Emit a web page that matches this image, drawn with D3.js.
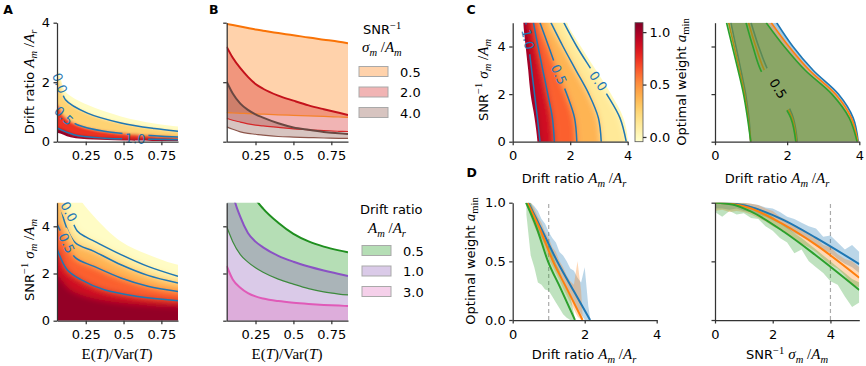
<!DOCTYPE html>
<html>
<head>
<meta charset="utf-8">
<script src="https://cdn.jsdelivr.net/npm/d3@7"></script>
<style>
  body { margin: 0; background: #fff; }
  svg text { font-family: "DejaVu Sans", sans-serif; font-size: 13px; }
  .axis path, .axis line { stroke: #333; stroke-width: 1.25; }
  .axis text { font-family: "DejaVu Sans", sans-serif; font-size: 13px; fill: #000; }
  .letter { font-weight: bold; font-size: 12.5px; }
</style>
</head>
<body>
<svg id="fig" width="866" height="366"></svg>
<script>
// ---------- shared ----------
const etTicks = [0.25, 0.5, 0.75];
const etDomain = [0.06, 0.86];
const snrGrid = [0, 1, 2, 3, 4, 5];
const cbDomain = [-0.045, 1.09];
const cbTicks = [0.0, 0.5, 1.0];

// ---------- A top: weight map over E(T)/Var(T) x drift ratio ----------
const aTopEdge   = [[0.06, 2.4], [0.116, 1.69], [0.261, 1.24], [0.483, 0.85], [0.705, 0.61], [0.86, 0.51]];
const aTopLine00 = [[0.06, 2.2], [0.079, 1.97], [0.116, 1.41], [0.261, 0.96], [0.483, 0.63], [0.705, 0.44], [0.86, 0.35]];
const aTopLine05 = [[0.06, 1.25], [0.105, 0.87], [0.194, 0.57], [0.372, 0.35], [0.594, 0.235], [0.86, 0.157]];
const aTopLine10 = [[0.06, 0.46], [0.172, 0.235], [0.372, 0.12], [0.577, 0.09], [0.86, 0.067]];
const aTopFloor  = [[0.06, 0.3], [0.15, 0.15], [0.3, 0.07], [0.5, 0.04], [0.86, 0.02]];
const aTopLevels = [-0.045, 0.0, 0.5, 1.0, 1.09];
const aTopLabels = [["0.0", 0.079, 1.97, 70], ["0.5", 0.105, 0.87, 45], ["1.0", 0.577, 0.1, 3]];

// ---------- A bottom: weight map over E(T)/Var(T) x SNR^-1 ----------
const aBotEdge   = [[0.06, 8.0], [0.2, 5.3], [0.305, 4.42], [0.483, 3.36], [0.661, 2.8], [0.86, 2.37]];
const aBotLine00 = [[0.06, 7.0], [0.10, 5.3], [0.139, 4.62], [0.194, 3.8], [0.25, 3.55], [0.305, 3.37], [0.483, 2.8], [0.661, 2.3], [0.86, 1.88]];
const aBotLine25 = [[0.06, 5.6], [0.12, 4.0], [0.183, 3.29], [0.305, 2.94], [0.483, 2.37], [0.661, 1.92], [0.86, 1.6]];
const aBotLine50 = [[0.06, 4.1], [0.123, 3.29], [0.183, 2.66], [0.305, 2.3], [0.483, 1.81], [0.661, 1.46], [0.86, 1.24]];
const aBotLine75 = [[0.06, 3.05], [0.127, 2.16], [0.218, 1.74], [0.372, 1.31], [0.594, 1.03], [0.86, 0.85]];
const aBotDeep   = [[0.06, 1.9], [0.15, 1.3], [0.3, 0.95], [0.5, 0.75], [0.86, 0.6]];
const aBotFloor  = [[0.06, 0], [0.86, 0]];
const aBotLevels = [-0.045, 0.0, 0.25, 0.5, 0.75, 1.0, 1.09];
const aBotLabels = [["0.0", 0.139, 4.62, 62], ["0.5", 0.123, 3.29, 65]];

// ---------- B: bounds of the useful region ----------
const bX = [0.06, 0.1, 0.15, 0.2, 0.25, 0.3, 0.4, 0.5, 0.6, 0.7, 0.8, 0.86];
const bSnrNames = ["0.5", "2.0", "4.0"];
const bSnrHi = [
  [3.96, 3.92, 3.87, 3.82, 3.77, 3.73, 3.65, 3.58, 3.5, 3.43, 3.36, 3.31],
  [3.19, 2.82, 2.47, 2.18, 1.94, 1.78, 1.55, 1.38, 1.22, 1.09, 0.97, 0.90],
  [2.02, 1.62, 1.28, 1.07, 0.92, 0.81, 0.62, 0.48, 0.40, 0.33, 0.28, 0.26]
];
const bSnrLo = [
  [0.975, 0.965, 0.955, 0.945, 0.935, 0.925, 0.905, 0.885, 0.865, 0.85, 0.83, 0.82],
  [0.79, 0.72, 0.66, 0.60, 0.56, 0.53, 0.48, 0.43, 0.40, 0.37, 0.35, 0.34],
  [0.50, 0.42, 0.33, 0.28, 0.25, 0.22, 0.175, 0.155, 0.14, 0.125, 0.115, 0.11]
];
const bDriftNames = ["0.5", "1.0", "3.0"];
const bDriftHi = [
  [9.0, 7.5, 6.4, 5.7, 5.15, 4.75, 4.15, 3.68, 3.36, 3.14, 2.98, 2.9],
  [7.0, 5.4, 4.4, 3.72, 3.35, 3.11, 2.75, 2.5, 2.3, 2.13, 1.98, 1.89],
  [2.32, 1.75, 1.4, 1.17, 1.03, 0.94, 0.83, 0.76, 0.71, 0.67, 0.64, 0.62]
];
const bDriftLo = [
  [3.98, 3.35, 2.8, 2.48, 2.24, 2.05, 1.76, 1.55, 1.36, 1.22, 1.13, 1.09],
  [0, 0, 0, 0, 0, 0, 0, 0, 0, 0, 0, 0],
  [0, 0, 0, 0, 0, 0, 0, 0, 0, 0, 0, 0]
];

// ---------- C left: weight map over drift ratio x SNR^-1 (x at each SNR^-1) ----------
const cLeftEdge  = [0.86, 0.76, 0.62, 0.54, 0.45, 0.37];
const cLine10    = [0.95, 0.86, 0.76, 0.66, 0.56, 0.46];
const cLine075   = [1.45, 1.38, 1.22, 1.05, 0.88, 0.72];
const cLine05    = [2.23, 2.15, 1.88, 1.55, 1.25, 0.95];
const cLine025   = [3.08, 2.98, 2.65, 2.2, 1.75, 1.33];
const cLine00    = [3.95, 3.73, 3.27, 2.75, 2.23, 1.78];
const cRightEdge = [4.02, 3.85, 3.42, 2.9, 2.37, 1.9];
const cLevels = [1.09, 1.0, 0.75, 0.5, 0.25, 0.0, -0.045];
const cLabels = [["1.0", 0.53, 4.3, 78], ["0.5", 1.61, 2.82, 66], ["0.0", 2.98, 2.55, 55]];

// ---------- C right: three models, weight 1 / 0.5 / 0 lines ----------
const cModelColors = ["#1f77b4", "#ff7f0e", "#2ca02c"];
const cOne  = [[0.99, 0.94, 0.85, 0.72, 0.58, 0.44], [0.99, 0.92, 0.82, 0.68, 0.53, 0.38], [0.99, 0.90, 0.79, 0.64, 0.48, 0.32]];
const cHalf = [[2.28, 2.17, 1.86, 1.47, 1.21, 1.0], [2.26, 2.14, 1.78, 1.37, 1.13, 0.93], [2.24, 2.1, 1.7, 1.27, 1.05, 0.86]];
const cZero = [[3.97, 3.83, 3.42, 2.72, 2.16, 1.71], [3.96, 3.78, 3.34, 2.62, 2.05, 1.56], [3.94, 3.72, 3.24, 2.5, 1.92, 1.42]];
const cHalfLabel = ["0.5", 1.75, 2.23, 58];

// ---------- D left: weight vs drift ratio ----------
const dLeftRef = 1;
const dLeftLines = [
  [[0.43, 1.0], [0.8, 0.775], [1.22, 0.51], [1.7, 0.245], [2.15, 0]],
  [[0.41, 1.0], [0.75, 0.78], [1.12, 0.5], [1.5, 0.27], [1.94, 0]],
  [[0.37, 1.0], [0.66, 0.79], [0.98, 0.5], [1.33, 0.27], [1.73, 0]]
];
const dLeftX = [
  [0.45, 0.5, 0.6, 0.7, 0.8, 0.9, 1.0, 1.1, 1.2, 1.3, 1.4, 1.5, 1.6, 1.7, 1.8, 1.9, 2.0, 2.1, 2.15],
  [0.42, 0.5, 0.6, 0.7, 0.8, 0.9, 1.0, 1.1, 1.2, 1.3, 1.4, 1.5, 1.6, 1.7, 1.8, 1.9, 1.94],
  [0.38, 0.5, 0.6, 0.7, 0.8, 0.9, 1.0, 1.1, 1.2, 1.3, 1.4, 1.5, 1.6, 1.7, 1.73]
];
const dLeftHi = [
  [1.0, 1.0, 0.97, 0.93, 0.86, 0.82, 0.75, 0.70, 0.66, 0.58, 0.55, 0.50, 0.44, 0.42, 0.36, 0.32, 0.45, 0.12, 0.02],
  [1.0, 1.0, 0.95, 0.88, 0.83, 0.75, 0.70, 0.62, 0.58, 0.50, 0.45, 0.38, 0.33, 0.30, 0.50, 0.25, 0.05],
  [1.0, 1.0, 0.92, 0.86, 0.78, 0.70, 0.64, 0.57, 0.48, 0.42, 0.33, 0.26, 0.20, 0.06, 0.0]
];
const dLeftLo = [
  [0.95, 0.90, 0.84, 0.76, 0.70, 0.64, 0.58, 0.52, 0.46, 0.40, 0.34, 0.28, 0.22, 0.16, 0.10, 0.05, 0.0, 0.0, 0.0],
  [0.95, 0.88, 0.80, 0.73, 0.66, 0.60, 0.52, 0.46, 0.40, 0.34, 0.27, 0.21, 0.15, 0.09, 0.03, 0.0, 0.0],
  [0.9, 0.55, 0.45, 0.32, 0.30, 0.26, 0.25, 0.2, 0.15, 0.1, 0.05, 0.02, 0.0, 0.0, 0.0]
];

// ---------- D right: weight vs SNR^-1 ----------
const dRightRef = 4;
const dRightLines = [
  [[0, 1.0], [0.6, 0.993], [1.2, 0.965], [2.4, 0.85], [3.5, 0.70], [5, 0.477]],
  [[0, 1.0], [0.6, 0.99], [1.2, 0.955], [2.4, 0.81], [3.5, 0.64], [5, 0.36]],
  [[0, 1.0], [0.6, 0.985], [1.2, 0.93], [2.4, 0.75], [3.5, 0.55], [5, 0.256]]
];
const dRightX = [0, 0.25, 0.5, 0.75, 1, 1.25, 1.5, 1.75, 2, 2.25, 2.5, 2.75, 3, 3.25, 3.5, 3.75, 4, 4.25, 4.5, 4.75, 5];
const dRightHi = [
  [1.0, 1.0, 1.0, 1.0, 1.0, 0.99, 0.98, 0.96, 0.95, 0.92, 0.88, 0.86, 0.83, 0.80, 0.78, 0.71, 0.72, 0.66, 0.60, 0.64, 0.58],
  [1.0, 1.0, 1.0, 1.0, 1.0, 0.99, 0.98, 0.95, 0.93, 0.88, 0.85, 0.80, 0.78, 0.74, 0.70, 0.64, 0.62, 0.56, 0.52, 0.50, 0.45],
  [1.0, 1.0, 1.0, 1.0, 0.99, 0.97, 0.95, 0.92, 0.88, 0.83, 0.79, 0.74, 0.70, 0.65, 0.60, 0.55, 0.50, 0.45, 0.40, 0.35, 0.32]
];
const dRightLo = [
  [0.95, 0.95, 0.94, 0.95, 0.93, 0.92, 0.90, 0.88, 0.85, 0.82, 0.78, 0.74, 0.71, 0.68, 0.63, 0.60, 0.57, 0.52, 0.48, 0.45, 0.40],
  [0.93, 0.94, 0.92, 0.93, 0.92, 0.90, 0.87, 0.84, 0.80, 0.77, 0.73, 0.70, 0.65, 0.62, 0.58, 0.52, 0.47, 0.44, 0.38, 0.30, 0.28],
  [0.92, 0.88, 0.93, 0.90, 0.91, 0.87, 0.86, 0.80, 0.76, 0.70, 0.66, 0.57, 0.60, 0.50, 0.45, 0.40, 0.33, 0.30, 0.20, 0.11, 0.15]
];

// ================= drawing =================
const svg = d3.select('#fig');
const defs = svg.append('defs');
const serif = '"Liberation Serif", "DejaVu Serif", serif';
const cmap = d3.scaleSequential(d3.interpolateYlOrRd).domain(cbDomain);
const smooth = d3.line().curve(d3.curveCatmullRom.alpha(0.5));
let uid = 0;

function panel(l, r, t, b, xd, yd) {
  return { x: d3.scaleLinear().domain(xd).range([l, r]), y: d3.scaleLinear().domain(yd).range([b, t]), l, r, t, b };
}
function clipRect(p) {
  const id = 'c' + (uid++);
  defs.append('clipPath').attr('id', id).append('rect')
    .attr('x', p.l).attr('y', p.t).attr('width', p.r - p.l).attr('height', p.b - p.t);
  return `url(#${id})`;
}
const toPx = (p, c) => c.map(d => [p.x(d[0]), p.y(d[1])]);
const band = (c1, c2) => smooth(c1) + 'L' + smooth(c2.slice().reverse()).slice(1) + 'Z';
const bySnr = arr => arr.map((v, i) => [v, snrGrid[i]]);

// math-ish text: parts of [string, kind]
function mtext(g, parts) {
  const t = g.append('text');
  let shift = 0;
  parts.forEach(([s, k]) => {
    const ts = t.append('tspan').text(s);
    let target = 0;
    if (k === 'i') ts.attr('font-family', serif).attr('font-style', 'italic').attr('font-size', 15);
    else if (k === 'm') ts.attr('font-family', serif).attr('font-size', 15);
    else if (k === 'sub') { ts.attr('font-family', serif).attr('font-style', 'italic').attr('font-size', 10.5); target = 3.5; }
    else if (k === 'subr') { ts.attr('font-family', serif).attr('font-size', 10.5); target = 3.5; }
    else if (k === 'sup') { ts.attr('font-family', serif).attr('font-size', 10.5); target = -5.5; }
    if (target !== shift) { ts.attr('dy', target - shift); shift = target; }
  });
  return t;
}
const lblDrift = [["Drift ratio ", "r"], ["A", "i"], ["m", "sub"], [" /", "m"], ["A", "i"], ["r", "sub"]];
const lblSnr = [["SNR", "r"], ["\u22121", "sup"], ["  ", "r"], ["\u03c3", "i"], ["m", "sub"], [" /", "m"], ["A", "i"], ["m", "sub"]];
const lblET = [["E(", "m"], ["T", "i"], [")/Var(", "m"], ["T", "i"], [")", "m"]];
const lblW = [["Optimal weight ", "r"], ["a", "i"], ["min", "subr"]];

function xLabel(parts, cx, y) { mtext(svg, parts).attr('x', cx).attr('y', y).attr('text-anchor', 'middle'); }
function yLabel(parts, x, cy) {
  mtext(svg, parts).attr('text-anchor', 'middle').attr('dy', '0.35em')
    .attr('transform', `translate(${x},${cy}) rotate(-90)`);
}

function axes(p, xt, yt, xf, yf) {
  svg.append('g').attr('class', 'axis').attr('transform', `translate(0,${p.b})`)
    .call(d3.axisBottom(p.x).tickValues(xt).tickSize(3.5).tickSizeOuter(0).tickPadding(6).tickFormat(xf || (() => '')));
  svg.append('g').attr('class', 'axis').attr('transform', `translate(${p.l},0)`)
    .call(d3.axisLeft(p.y).tickValues(yt).tickSize(3.5).tickSizeOuter(0).tickPadding(3.5).tickFormat(yf || (() => '')));
}

// blurred colour bands between boundary curves (a filled heat map)
function heat(p, curves, levels, orient, sd) {
  const padded = curves.map(c => {
    const q = toPx(p, c), a = q[0], b = q[q.length - 1];
    return orient === 'h'
      ? [[a[0] - 12, a[1]], ...q, [b[0] + 12, b[1]]]
      : [[a[0], a[1] + 12], ...q, [b[0], b[1] - 12]];
  });
  const outer = 'c' + (uid++);
  defs.append('clipPath').attr('id', outer).append('path').attr('d', band(padded[0], padded[padded.length - 1]));
  const fid = 'f' + (uid++);
  defs.append('filter').attr('id', fid).attr('x', -0.2).attr('y', -0.2).attr('width', 1.4).attr('height', 1.4)
    .append('feGaussianBlur').attr('stdDeviation', sd);
  const g = svg.append('g').attr('clip-path', clipRect(p))
    .append('g').attr('clip-path', `url(#${outer})`)
    .append('g').attr('filter', `url(#${fid})`);
  const n = padded.length - 1;
  [0, n - 1, ...d3.range(1, n - 1)].forEach(i => {
    const col = cmap((levels[i] + levels[i + 1]) / 2);
    const el = g.append('path').attr('d', band(padded[i], padded[i + 1])).attr('fill', col);
    if (i === 0 || i === n - 1) el.attr('stroke', col).attr('stroke-width', 14).attr('stroke-linejoin', 'round');
  });
}

function contours(p, lines, labels, color, mw, mh) {
  const mid = 'm' + (uid++);
  const m = defs.append('mask').attr('id', mid).attr('maskUnits', 'userSpaceOnUse')
    .attr('x', 0).attr('y', 0).attr('width', 866).attr('height', 366);
  m.append('rect').attr('width', 866).attr('height', 366).attr('fill', '#fff');
  labels.forEach(l => m.append('rect').attr('x', -mw / 2).attr('y', -mh / 2).attr('width', mw).attr('height', mh)
    .attr('fill', '#000').attr('transform', `translate(${p.x(l[1])},${p.y(l[2])}) rotate(${l[3]})`));
  svg.append('g').attr('clip-path', clipRect(p)).append('g').attr('mask', `url(#${mid})`)
    .selectAll('path').data(lines).join('path')
    .attr('d', c => smooth(toPx(p, c))).attr('fill', 'none').attr('stroke', color).attr('stroke-width', 1.5);
  svg.append('g').selectAll('text').data(labels).join('text')
    .attr('transform', l => `translate(${p.x(l[1])},${p.y(l[2])}) rotate(${l[3]})`)
    .attr('text-anchor', 'middle').attr('dy', '0.36em').attr('fill', color).text(l => l[0]);
}

const blueC = '#1f77b4';
const f2 = d => String(d);
const fInt = d3.format('d');
const f1 = d3.format('.1f');

// ----- A top -----
const pA1 = panel(57, 178, 22.7, 141.7, etDomain, [0, 4]);
heat(pA1, [aTopEdge, aTopLine00, aTopLine05, aTopLine10, aTopFloor], aTopLevels, 'h', 1.8);
contours(pA1, [aTopLine00, aTopLine05, aTopLine10], aTopLabels, blueC, 26, 13);
axes(pA1, etTicks, [0, 2, 4], f2, fInt);
yLabel(lblDrift, 29, 82);

// ----- A bottom -----
const pA2 = panel(57, 178, 202.7, 320.7, etDomain, [0, 5]);
heat(pA2, [aBotEdge, aBotLine00, aBotLine25, aBotLine50, aBotLine75, aBotDeep, aBotFloor], aBotLevels, 'h', 3);
contours(pA2, [aBotLine00, aBotLine25, aBotLine50, aBotLine75], aBotLabels, blueC, 28, 14);
axes(pA2, etTicks, [0, 2, 4], f2, fInt);
yLabel(lblSnr, 29, 260);
xLabel(lblET, 117, 359);

// ----- B top -----
const pB1 = panel(226.7, 348, 22.7, 141.7, etDomain, [0, 4]);
const snrFill = ["#ff7f0e", "#d62728", "#8c564b"];
const snrHiLine = ["#f97306", "#c4121b", "#6a4842"];
const snrLoLine = ["#f5822a", "#d62728", "#8c564b"];
const driftFill = ["#2ca02c", "#9467bd", "#e377c2"];
const driftHiLine = ["#1f8f1f", "#8a52c4", "#e05ab8"];
const driftLoLine = ["#3d8a3d", "#9467bd", "#e377c2"];

function boundBands(p, hi, lo, fills, hiCols, loCols) {
  const g = svg.append('g').attr('clip-path', clipRect(p));
  const idx = d3.range(bX.length);
  hi.forEach((h, k) => {
    const area = d3.area().x(i => p.x(bX[i])).y0(i => p.y(lo[k][i])).y1(i => p.y(h[i])).curve(d3.curveMonotoneX);
    g.append('path').attr('d', area(idx)).attr('fill', fills[k]).attr('fill-opacity', 0.35);
  });
  hi.forEach((h, k) => {
    const ln = arr => d3.line().x(i => p.x(bX[i])).y(i => p.y(arr[i])).curve(d3.curveMonotoneX)(idx);
    if (d3.max(lo[k]) > 0) g.append('path').attr('d', ln(lo[k])).attr('fill', 'none').attr('stroke', loCols[k]).attr('stroke-width', 1.2);
    g.append('path').attr('d', ln(h)).attr('fill', 'none').attr('stroke', hiCols[k]).attr('stroke-width', 2);
  });
}
boundBands(pB1, bSnrHi, bSnrLo, snrFill, snrHiLine, snrLoLine);
axes(pB1, etTicks, [0, 2, 4], f2, null);

function legend(x, y0, names, fills) {
  names.forEach((nm, k) => {
    const y = y0 + k * 20.5;
    svg.append('rect').attr('x', x).attr('y', y).attr('width', 29).attr('height', 10)
      .attr('fill', fills[k]).attr('fill-opacity', 0.35).attr('stroke', '#a9a9a9').attr('stroke-width', 1);
    svg.append('text').attr('x', x + 41).attr('y', y + 10).text(nm);
  });
}
mtext(svg, [["SNR", "r"], ["\u22121", "sup"]]).attr('x', 363).attr('y', 34);
mtext(svg, [["\u03c3", "i"], ["m", "sub"], [" /", "m"], ["A", "i"], ["m", "sub"]]).attr('x', 362).attr('y', 52);
legend(359, 66.5, bSnrNames, snrFill);

// ----- B bottom -----
const pB2 = panel(226.7, 348, 202.7, 320.7, etDomain, [0, 5]);
boundBands(pB2, bDriftHi, bDriftLo, driftFill, driftHiLine, driftLoLine);
axes(pB2, etTicks, [0, 2, 4], f2, null);
xLabel(lblET, 287, 359);
svg.append('text').attr('x', 360).attr('y', 214).text('Drift ratio');
mtext(svg, [["A", "i"], ["m", "sub"], [" /", "m"], ["A", "i"], ["r", "sub"]]).attr('x', 368).attr('y', 233);
legend(362, 245.5, bDriftNames, driftFill);

// ----- C left -----
const pC1 = panel(512.7, 627.7, 22.7, 141.7, [0, 4], [0, 5]);
heat(pC1, [cLeftEdge, cLine10, cLine075, cLine05, cLine025, cLine00, cRightEdge].map(bySnr), cLevels, 'v', 3);
contours(pC1, [cLine10, cLine075, cLine05, cLine025, cLine00].map(bySnr), cLabels, blueC, 30, 14);
axes(pC1, [0, 2, 4], [0, 2, 4], fInt, fInt);
yLabel(lblSnr, 483, 80);
xLabel(lblDrift, 574, 183);

// colour bar
const cb = d3.scaleLinear().domain(cbDomain).range([141.7, 22.7]);
const grad = defs.append('linearGradient').attr('id', 'cbgrad').attr('x1', 0).attr('y1', 1).attr('x2', 0).attr('y2', 0);
d3.range(0, 1.0001, 0.05).forEach(t => grad.append('stop').attr('offset', t)
  .attr('stop-color', cmap(cbDomain[0] + t * (cbDomain[1] - cbDomain[0]))));
svg.append('rect').attr('x', 635).attr('y', cb(cbDomain[1])).attr('width', 8)
  .attr('height', cb(cbDomain[0]) - cb(cbDomain[1])).attr('fill', 'url(#cbgrad)').attr('stroke', '#555').attr('stroke-width', 0.8);
svg.append('g').attr('class', 'axis').attr('transform', 'translate(643,0)')
  .call(d3.axisRight(cb).tickValues(cbTicks).tickSize(3.5).tickSizeOuter(0).tickPadding(3).tickFormat(f1))
  .select('.domain').remove();
yLabel(lblW, 681, 82);

// ----- C right -----
const pC2 = panel(715, 859.3, 22.7, 141.7, [0, 4], [0, 5]);
{
  const g = svg.append('g').attr('clip-path', clipRect(pC2));
  const mid = 'm' + (uid++);
  const m = defs.append('mask').attr('id', mid).attr('maskUnits', 'userSpaceOnUse')
    .attr('x', 0).attr('y', 0).attr('width', 866).attr('height', 366);
  m.append('rect').attr('width', 866).attr('height', 366).attr('fill', '#fff');
  m.append('rect').attr('x', -23).attr('y', -9).attr('width', 46).attr('height', 18).attr('fill', '#000')
    .attr('transform', `translate(${pC2.x(cHalfLabel[1])},${pC2.y(cHalfLabel[2])}) rotate(${cHalfLabel[3]})`);
  cModelColors.forEach((col, k) => {
    const one = toPx(pC2, bySnr(cOne[k])), zero = toPx(pC2, bySnr(cZero[k]));
    g.append('path').attr('d', band(one, zero)).attr('fill', col).attr('fill-opacity', 0.4);
    [one, zero].forEach(c => g.append('path').attr('d', smooth(c)).attr('fill', 'none').attr('stroke', col).attr('stroke-width', 1.6));
    g.append('path').attr('mask', `url(#${mid})`).attr('d', smooth(toPx(pC2, bySnr(cHalf[k]))))
      .attr('fill', 'none').attr('stroke', col).attr('stroke-width', 1.6);
  });
  svg.append('text').attr('text-anchor', 'middle').attr('dy', '0.36em')
    .attr('transform', `translate(${pC2.x(cHalfLabel[1])},${pC2.y(cHalfLabel[2])}) rotate(${cHalfLabel[3]})`)
    .text(cHalfLabel[0]);
}
axes(pC2, [0, 2, 4], [0, 2, 4], fInt, null);
xLabel(lblDrift, 777, 183);

// ----- D panels -----
function noisyBands(p, xs, hi, lo, lines, ref) {
  const g = svg.append('g').attr('clip-path', clipRect(p));
  g.append('path').attr('d', d3.line()([[p.x(ref), p.y(0)], [p.x(ref), p.y(1)]]))
    .attr('stroke', '#aaa').attr('stroke-width', 1.2).attr('stroke-dasharray', '4,3');
  cModelColors.forEach((col, k) => {
    const x = Array.isArray(xs[0]) ? xs[k] : xs;
    const area = d3.area().x(i => p.x(x[i])).y0(i => p.y(lo[k][i])).y1(i => p.y(hi[k][i]));
    g.append('path').attr('d', area(d3.range(x.length))).attr('fill', col).attr('fill-opacity', 0.3);
  });
  cModelColors.forEach((col, k) => {
    g.append('path').attr('d', d3.line().x(d => p.x(d[0])).y(d => p.y(d[1])).curve(d3.curveMonotoneX)(lines[k]))
      .attr('fill', 'none').attr('stroke', col).attr('stroke-width', 2);
  });
}
const pD1 = panel(512.7, 656.7, 202.7, 320, [0, 4], [0, 1]);
noisyBands(pD1, dLeftX, dLeftHi, dLeftLo, dLeftLines, dLeftRef);
axes(pD1, [0, 2, 4], [0, 0.5, 1], fInt, f1);
yLabel(lblW, 470, 261);
xLabel(lblDrift, 584, 359);

const pD2 = panel(715, 859.3, 202.7, 320, [0, 5], [0, 1]);
noisyBands(pD2, dRightX, dRightHi, dRightLo, dRightLines, dRightRef);
axes(pD2, [0, 2, 4], [0, 0.5, 1], fInt, null);
xLabel(lblSnr, 787, 359);

// panel letters
[["A", 3.3, 13.5], ["B", 209, 13.5], ["C", 466.5, 13.5], ["D", 466.5, 177]].forEach(([s, x, y]) =>
  svg.append('text').attr('class', 'letter').attr('x', x).attr('y', y).text(s));
</script>
</body>
</html>
